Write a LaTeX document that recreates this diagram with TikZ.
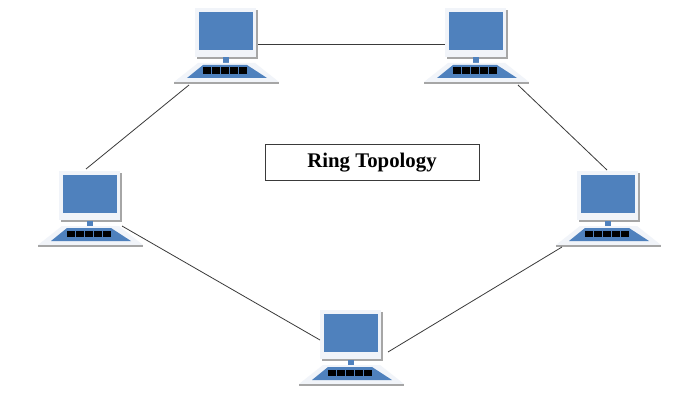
\documentclass[tikz,border=0pt]{standalone}
\usepackage{fontspec}
\setmainfont{Liberation Serif}
\definecolor{pcblue}{HTML}{4F81BD}
\definecolor{pcshade}{HTML}{A6A6A6}
\definecolor{pcface}{HTML}{F1F4F9}
\definecolor{wire}{HTML}{3A3A3A}
\tikzset{
  x=1pt,y=-1pt,
  wirelink/.style={draw=wire,line width=0.8pt},
  labelbox/.style={draw=wire,line width=0.9pt,fill=white,minimum width=214pt,minimum height=36pt,inner sep=0pt,font=\fontsize{20.8}{22}\selectfont\bfseries},
  computer/.pic={
    % monitor
    \fill[pcshade] (23,-73) rectangle (84,-24);
    \fill[pcface] (21,-75) rectangle (82,-26);
    \fill[pcblue] (24.7,-71) rectangle (78.7,-33);
    % stem
    \fill[pcblue] (49,-25.5) rectangle (54.5,-19.5);
    % base
    \fill[pcface] (24,-20) -- (81,-20) -- (105,-1) -- (0,-1) -- cycle;
    \fill[pcshade] (0,-1.2) rectangle (105,0.8);
    \fill[pcblue] (29,-18) -- (73,-18) -- (93,-5) -- (13,-5) -- cycle;
    \foreach \k in {0,1,2,3,4}
      \fill[black] (29.3+\k*9,-15.5) rectangle ++(7.6,6.5);
  }
}
\begin{document}
\begin{tikzpicture}
\useasboundingbox (0,0) rectangle (696,412);
\fill[white] (0,0) rectangle (696,412);
\pic at (174,83) {computer};
\pic at (424,83) {computer};
\pic at (38,246) {computer};
\pic at (556,246) {computer};
\pic at (299,385) {computer};
\coordinate (a1) at (258,44);
\coordinate (a2) at (189,85);
\coordinate (b1) at (445,44);
\coordinate (b2) at (518,85);
\coordinate (c1) at (86,169);
\coordinate (c2) at (122,226);
\coordinate (d1) at (607,170);
\coordinate (d2) at (562,247);
\coordinate (e1) at (320,340);
\coordinate (e2) at (388,352);
\draw[wirelink] (a1) -- (b1);
\draw[wirelink] (a2) -- (c1);
\draw[wirelink] (b2) -- (d1);
\draw[wirelink] (c2) -- (e1);
\draw[wirelink] (d2) -- (e2);
\node[labelbox] (title) at (372,162.5) {Ring Topology};
\end{tikzpicture}
\end{document}
